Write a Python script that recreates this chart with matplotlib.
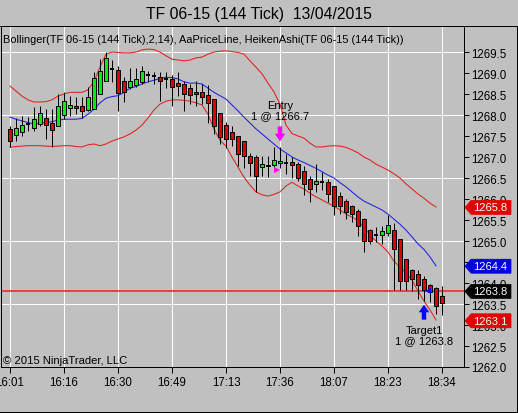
import matplotlib
matplotlib.use("Agg")
import matplotlib.pyplot as plt
from matplotlib.patches import Polygon
from matplotlib.lines import Line2D
from matplotlib.transforms import IdentityTransform
import numpy as np

# ---------------------------------------------------------------------------
# Donnees (Heiken Ashi, TF 06-15, 144 ticks)
# ---------------------------------------------------------------------------
opens = [
    1267.67, 1267.52, 1267.60, 1267.78, 1267.70, 1267.79, 1267.92, 1267.81, 1267.75, 1268.00,
    1268.16, 1268.21, 1268.21, 1268.12, 1268.14, 1268.50, 1268.82, 1269.09, 1269.08, 1268.82,
    1268.67, 1268.72, 1268.79, 1268.95, 1268.94, 1268.91, 1268.86, 1268.86, 1268.76, 1268.74,
    1268.64, 1268.55, 1268.54, 1268.48, 1268.38, 1268.06, 1267.77, 1267.60, 1267.51, 1267.39,
    1267.02, 1266.99, 1266.76, 1266.78, 1266.82, 1266.86, 1266.87, 1266.87, 1266.83, 1266.67,
    1266.48, 1266.35, 1266.41, 1266.40, 1266.30, 1266.08, 1265.96, 1265.83, 1265.72, 1265.52,
    1265.27, 1265.14, 1265.14, 1265.19, 1265.27, 1265.05, 1264.57, 1264.32, 1264.21, 1264.10,
    1263.95, 1263.87, 1263.68]
highs = [
    1267.73, 1267.92, 1267.97, 1267.95, 1268.20, 1268.21, 1268.14, 1268.14, 1268.50, 1268.54,
    1268.46, 1268.42, 1268.42, 1268.66, 1269.02, 1269.33, 1269.51, 1269.32, 1269.17, 1268.90,
    1269.11, 1269.11, 1269.16, 1269.05, 1269.03, 1269.03, 1269.03, 1268.95, 1269.02, 1268.82,
    1268.74, 1268.82, 1268.74, 1268.71, 1268.38, 1268.06, 1267.83, 1267.75, 1267.51, 1267.39,
    1267.10, 1267.05, 1267.02, 1267.02, 1267.23, 1267.23, 1267.07, 1266.99, 1266.89, 1266.79,
    1266.55, 1266.83, 1266.64, 1266.48, 1266.32, 1266.16, 1266.00, 1265.86, 1265.76, 1265.54,
    1265.29, 1265.33, 1265.36, 1265.62, 1265.42, 1265.05, 1264.57, 1264.33, 1264.32, 1264.17,
    1263.98, 1263.90, 1263.92]
lows = [
    1267.23, 1267.38, 1267.51, 1267.63, 1267.63, 1267.75, 1267.43, 1267.23, 1267.75, 1267.90,
    1267.98, 1268.02, 1267.92, 1268.10, 1268.14, 1268.50, 1268.82, 1268.78, 1268.10, 1268.32,
    1268.62, 1268.66, 1268.74, 1268.78, 1268.75, 1268.34, 1268.64, 1268.21, 1268.46, 1268.10,
    1268.26, 1268.22, 1268.26, 1267.81, 1267.55, 1267.31, 1267.21, 1267.27, 1266.79, 1266.75,
    1266.55, 1266.16, 1266.55, 1266.52, 1266.67, 1266.75, 1266.60, 1266.49, 1266.44, 1266.10,
    1265.93, 1266.16, 1266.22, 1265.92, 1265.62, 1265.64, 1265.52, 1265.45, 1265.13, 1264.73,
    1264.93, 1264.98, 1264.93, 1265.13, 1263.84, 1263.84, 1263.84, 1263.82, 1263.62, 1263.58,
    1263.54, 1263.26, 1263.24]
closes = [
    1267.39, 1267.68, 1267.76, 1267.80, 1267.90, 1268.06, 1267.76, 1267.65, 1268.21, 1268.33,
    1268.25, 1268.17, 1268.10, 1268.42, 1268.87, 1269.05, 1269.35, 1269.08, 1268.52, 1268.55,
    1268.82, 1268.86, 1269.04, 1268.94, 1268.93, 1268.80, 1268.85, 1268.66, 1268.70, 1268.50,
    1268.48, 1268.50, 1268.44, 1268.29, 1267.74, 1267.47, 1267.42, 1267.43, 1267.07, 1267.03,
    1266.86, 1266.55, 1266.83, 1266.82, 1266.93, 1266.90, 1266.86, 1266.81, 1266.49, 1266.36,
    1266.25, 1266.44, 1266.40, 1266.12, 1265.84, 1265.83, 1265.70, 1265.64, 1265.36, 1265.01,
    1265.01, 1265.13, 1265.25, 1265.37, 1264.80, 1264.05, 1264.05, 1264.10, 1263.95, 1263.84,
    1263.79, 1263.46, 1263.52]

# Bollinger(2,14) : bandes tracees jusqu'a l'avant-derniere barre
bb_upper = [
    1268.69, 1268.57, 1268.45, 1268.36, 1268.31, 1268.31, 1268.32, 1268.36, 1268.45, 1268.50,
    1268.54, 1268.54, 1268.54, 1268.60, 1268.80, 1269.14, 1269.45, 1269.50, 1269.49, 1269.48,
    1269.48, 1269.50, 1269.55, 1269.57, 1269.56, 1269.50, 1269.41, 1269.33, 1269.31, 1269.29,
    1269.31, 1269.36, 1269.38, 1269.45, 1269.50, 1269.52, 1269.53, 1269.51, 1269.49, 1269.45,
    1269.29, 1269.14, 1268.98, 1268.76, 1268.55, 1268.26, 1267.76, 1267.56, 1267.50, 1267.45,
    1267.33, 1267.24, 1267.24, 1267.26, 1267.27, 1267.26, 1267.23, 1267.17, 1267.10, 1267.00,
    1266.93, 1266.83, 1266.76, 1266.69, 1266.60, 1266.50, 1266.36, 1266.24, 1266.12, 1266.02,
    1265.90, 1265.81]
bb_mid = [
    1267.95, 1267.90, 1267.86, 1267.82, 1267.79, 1267.80, 1267.82, 1267.84, 1267.88, 1267.90,
    1267.90, 1267.90, 1267.92, 1268.02, 1268.14, 1268.29, 1268.40, 1268.44, 1268.46, 1268.54,
    1268.64, 1268.68, 1268.74, 1268.79, 1268.83, 1268.87, 1268.90, 1268.89, 1268.86, 1268.79,
    1268.76, 1268.76, 1268.74, 1268.64, 1268.54, 1268.46, 1268.38, 1268.24, 1268.10, 1267.95,
    1267.81, 1267.67, 1267.55, 1267.43, 1267.31, 1267.19, 1267.10, 1267.00, 1266.93, 1266.87,
    1266.80, 1266.73, 1266.65, 1266.57, 1266.50, 1266.39, 1266.29, 1266.17, 1266.05, 1265.95,
    1265.88, 1265.81, 1265.74, 1265.64, 1265.52, 1265.40, 1265.26, 1265.10, 1264.93, 1264.80,
    1264.62, 1264.41]
bb_lower = [
    1267.23, 1267.25, 1267.26, 1267.27, 1267.27, 1267.27, 1267.26, 1267.25, 1267.26, 1267.27,
    1267.27, 1267.25, 1267.24, 1267.29, 1267.31, 1267.27, 1267.31, 1267.38, 1267.43, 1267.48,
    1267.55, 1267.64, 1267.76, 1267.93, 1268.12, 1268.26, 1268.33, 1268.36, 1268.36, 1268.35,
    1268.33, 1268.29, 1268.24, 1268.02, 1267.67, 1267.40, 1267.26, 1267.00, 1266.76, 1266.52,
    1266.33, 1266.17, 1266.10, 1266.07, 1266.11, 1266.17, 1266.31, 1266.40, 1266.31, 1266.24,
    1266.14, 1266.05, 1265.98, 1265.90, 1265.83, 1265.74, 1265.64, 1265.57, 1265.48, 1265.33,
    1265.14, 1265.00, 1264.88, 1264.74, 1264.52, 1264.38, 1264.24, 1264.07, 1263.81, 1263.57,
    1263.36, 1263.12]

last_price = 1263.8
tick_labels = ["16:01", "16:16", "16:30", "16:49", "17:13", "17:36", "18:07", "18:23", "18:34"]
y_ticks = [1262.0 + 0.5 * k for k in range(16)]
y_grid = [1262.0, 1263.5, 1265.0, 1266.5, 1268.0, 1269.5]

entry_bar, entry_price, entry_text = 45, 1266.7, "Entry\n1 @ 1266.7"
exit_bar, exit_price, exit_text = 69, 1263.8, "Target1\n1 @ 1263.8"

# marqueurs de l'axe des prix : (valeur, couleur)
axis_markers = [(1265.8, "#e00000"), (1264.4, "#0000e0"),
                (1263.8, "#000000"), (1263.1, "#e00000")]

# ---------------------------------------------------------------------------
# Style
# ---------------------------------------------------------------------------
BG = "#c0c0c0"
UP = "#00ee00"
DOWN = "#dd0000"
FONT = "Liberation Sans"
PX = 0.72  # 1 pixel en points a 100 dpi
W, H = 518, 414

plt.rcParams["font.family"] = [FONT, "DejaVu Sans"]

fig = plt.figure(figsize=(W / 100, H / 100), dpi=100, facecolor=BG)
ax = fig.add_axes([1 / W, 46 / H, 463 / W, 341 / H])
ax.set_facecolor(BG)

n = len(opens)
x = np.arange(n)
o = np.array(opens); c = np.array(closes)
hi = np.array(highs); lo = np.array(lows)

ax.set_xlim(-1.5, 75.67)
ax.set_ylim(1262.0, 1270.12)

# grille
for gy in y_grid:
    ax.axhline(gy, color="white", lw=PX, zorder=0)
xt = np.arange(0, n, 9)
for gx in xt:
    ax.axvline(gx, color="white", lw=PX, zorder=0)

# bandes de Bollinger
xb = np.arange(len(bb_mid))
ax.plot(xb, bb_upper, color="#e02828", lw=0.8, zorder=2)
ax.plot(xb, bb_lower, color="#e02828", lw=0.8, zorder=2)
ax.plot(xb, bb_mid, color="#2828e0", lw=0.8, zorder=2)

# ligne de prix
ax.axhline(last_price, color="#f02020", lw=1.1, zorder=2)

# bougies Heiken Ashi
ax.vlines(x, lo, hi, color="black", lw=PX, zorder=3)
doji = np.abs(c - o) < 0.025
body = ~doji
cols = np.where(c >= o, UP, DOWN)
ax.bar(x[body], np.abs(c - o)[body], bottom=np.minimum(o, c)[body], width=0.7,
       color=cols[body], edgecolor="black", linewidth=PX, zorder=4)
ax.hlines(((o + c) / 2)[doji], x[doji] - 0.4, x[doji] + 0.4, color="black",
          lw=1.4, zorder=4)

# executions : entree et sortie (decalages en pixels, 42 px par point)
ax.annotate("", xy=(entry_bar, hi[entry_bar] + 6 / 42),
            xytext=(entry_bar, hi[entry_bar] + 21 / 42),
            arrowprops=dict(facecolor="#ff00ff", edgecolor="none", width=3.2,
                            headwidth=7.5, headlength=5.5, shrink=0), zorder=5)
ax.text(entry_bar, hi[entry_bar] + 37 / 42, entry_text, ha="center",
        va="center", fontsize=8, linespacing=1.0, zorder=5)
ax.plot(entry_bar - 0.55, entry_price, marker=">", color="#ff00ff",
        markersize=5, markeredgewidth=0, zorder=6)

ax.annotate("", xy=(exit_bar, lo[exit_bar] - 4 / 42),
            xytext=(exit_bar, lo[exit_bar] - 19 / 42),
            arrowprops=dict(facecolor="#0000ff", edgecolor="none", width=3.2,
                            headwidth=7.5, headlength=5.5, shrink=0), zorder=5)
ax.text(exit_bar, lo[exit_bar] - 34 / 42, exit_text, ha="center",
        va="center", fontsize=8, linespacing=1.0, zorder=5)
ax.plot(exit_bar + 0.6, exit_price, marker="<", color="#0000ff",
        markersize=5, markeredgewidth=0, zorder=6)

# axes
ax.set_xticks(xt)
ax.set_xticklabels(tick_labels)
ax.set_yticks(y_ticks)
ax.set_yticklabels([f"{v:.1f}" for v in y_ticks])
ax.yaxis.tick_right()
ax.tick_params(axis="x", direction="out", length=6 * PX, width=PX, pad=2,
               labelsize=8.3, colors="black")
ax.tick_params(axis="y", direction="out", length=5 * PX, width=PX, pad=1.5,
               labelsize=8.3, colors="black")
for sp in ax.spines.values():
    sp.set_color("black")
    sp.set_linewidth(PX)

# textes
fig.text(259 / W, 1 - 14 / H, "TF 06-15 (144 Tick)  13/04/2015", ha="center",
         va="center", fontsize=11.3)
ax.text(2 / 463, 1 - 13 / 341,
        "Bollinger(TF 06-15 (144 Tick),2,14), AaPriceLine, HeikenAshi(TF 06-15 (144 Tick))",
        transform=ax.transAxes, ha="left", va="center", fontsize=7.95)
ax.text(2 / 463, 7 / 341, "\u00a9 2015 NinjaTrader, LLC", transform=ax.transAxes,
        ha="left", va="center", fontsize=8.1)

# cadre exterieur
fig.add_artist(Line2D([0, 1], [1 - 27 / H, 1 - 27 / H], color="black", lw=PX))
fig.add_artist(Line2D([1 - 1 / W, 1 - 1 / W], [1 / H, 1 - 27 / H], color="black", lw=PX))
fig.add_artist(Line2D([0, 1], [1 / H, 1 / H], color="black", lw=PX))

# marqueurs sur l'axe des prix
fig.canvas.draw()
for val, col in axis_markers:
    yd = ax.transData.transform((0, val))[1]
    pts = [(465, yd), (471, yd + 7), (511, yd + 7), (511, yd - 7), (471, yd - 7)]
    fig.add_artist(Polygon(pts, closed=True, facecolor=col, edgecolor=col,
                           lw=0.5, transform=IdentityTransform(), zorder=5))
    fig.text(473 / W, yd / H, f"{val:.1f}", color="white", ha="left",
             va="center", fontsize=8, zorder=6)

fig.savefig("out.png", dpi=100, facecolor=BG)
